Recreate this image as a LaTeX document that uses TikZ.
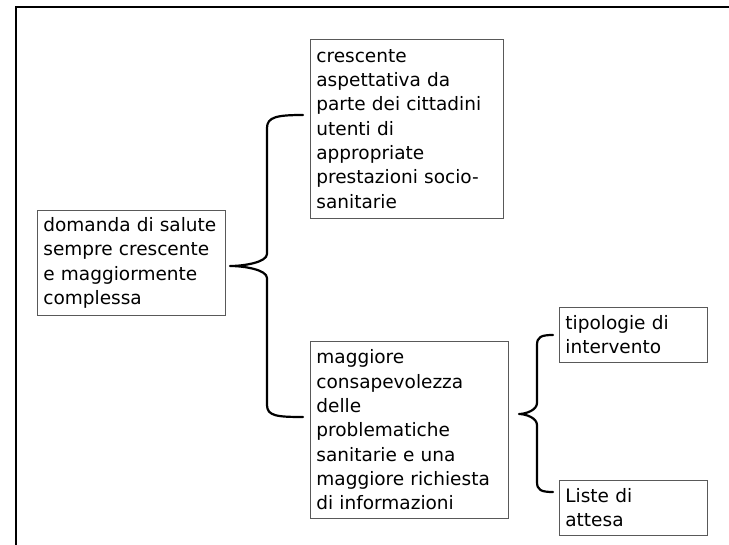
\documentclass[tikz,border=0pt]{standalone}
\usepackage{fontspec}
\setmainfont{DejaVu Sans}
\usetikzlibrary{calc}
\begin{document}
\begin{tikzpicture}[x=1pt,y=-1pt,
  box/.style={draw=black!65, line width=0.8pt, rectangle, anchor=north west,
    align=left, inner xsep=6pt, inner ysep=0pt,
    font=\fontsize{18.5}{24.3}\selectfont},
  brace/.style={line width=2.2pt, line join=round, line cap=round},
  frame/.style={line width=2pt}]
\useasboundingbox (0,0) rectangle (729,545);
% frame
\coordinate (fTR) at (729,7);
\coordinate (fTL) at (16,7);
\coordinate (fBL) at (16,545);
\draw[frame] (fTR) -- (fTL) -- (fBL);
% boxes
\node[box, minimum width=188pt, minimum height=105pt, text width=176pt] (A) at (37,210)
  {domanda di salute\\sempre crescente\\e maggiormente\\complessa};
\node[box, minimum width=193pt, minimum height=179pt, text width=181pt] (B) at (310,39)
  {crescente\\aspettativa da\\parte dei cittadini\\utenti di\\appropriate\\prestazioni socio-\\sanitarie};
\node[box, minimum width=198pt, minimum height=177pt, text width=186pt] (C) at (310,341)
  {maggiore\\consapevolezza\\delle\\problematiche\\sanitarie e una\\maggiore richiesta\\di informazioni};
\node[box, minimum width=148pt, minimum height=55pt, text width=136pt] (D) at (559,307)
  {tipologie di\\intervento};
\node[box, minimum width=148pt, minimum height=55pt, text width=136pt] (E) at (559,480)
  {Liste di\\attesa};
% brace 1
\coordinate (b1top) at (303,115);
\coordinate (b1tip) at (230,266);
\coordinate (b1bot) at (303,417);
\draw[brace] (b1top) .. controls (277,115) and (267,117) .. (267,128)
  -- (267,254) .. controls (267,262) and (245,266) .. (b1tip)
  .. controls (245,266) and (267,270) .. (267,278)
  -- (267,405) .. controls (267,416) and (277,417) .. (b1bot);
% brace 2
\coordinate (b2top) at (553,335);
\coordinate (b2tip) at (519,414);
\coordinate (b2bot) at (553,492);
\draw[brace] (b2top) .. controls (541,335) and (537,337) .. (537,345)
  -- (537,403) .. controls (537,410) and (526,414) .. (b2tip)
  .. controls (526,414) and (537,418) .. (537,425)
  -- (537,482) .. controls (537,490) and (541,492) .. (b2bot);
\end{tikzpicture}
\end{document}
